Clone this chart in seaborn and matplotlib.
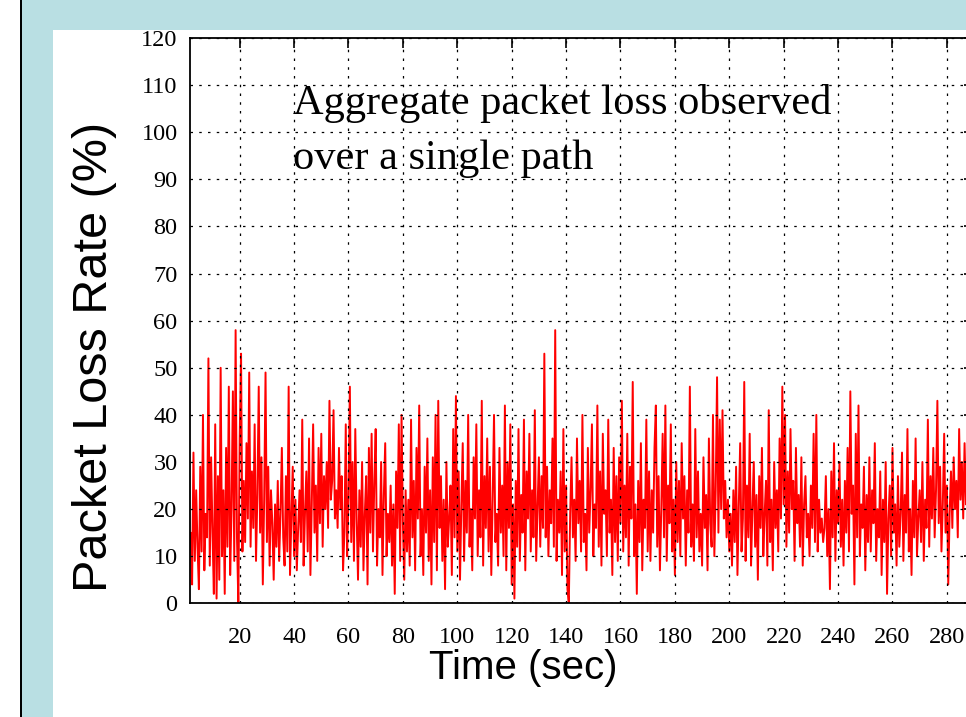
import numpy as np
import pandas as pd
import seaborn as sns
import matplotlib.pyplot as plt
from matplotlib.patches import Rectangle

# sampling of the trace (sec)
t_start = 2.0
t_step = 0.5

# packet loss rate (%), 10 s per row
loss = [
    15, 4, 32, 9, 24, 12, 3, 29, 11, 40, 7, 19, 14, 52, 8, 31, 15, 2, 38, 1,
    27, 5, 50, 10, 24, 2, 33, 12, 46, 6, 20, 45, 9, 58, 14, 0, 35, 53, 11, 26,
    13, 34, 18, 49, 12, 28, 16, 38, 9, 23, 46, 15, 31, 4, 22, 49, 13, 29, 8, 24,
    17, 5, 21, 12, 26, 9, 19, 33, 14, 8, 27, 11, 46, 6, 18, 29, 10, 22, 7, 16,
    24, 13, 39, 8, 19, 28, 11, 35, 6, 21, 38, 15, 25, 9, 33, 17, 36, 12, 27, 20,
    30, 16, 43, 22, 26, 41, 18, 24, 16, 33, 20, 27, 7, 15, 38, 10, 22, 46, 13, 30,
    9, 37, 18, 5, 24, 12, 30, 7, 19, 27, 4, 33, 15, 36, 11, 26, 37, 8, 20, 14,
    30, 6, 23, 34, 10, 19, 13, 25, 8, 21, 2, 28, 16, 38, 9, 40, 17, 5, 24, 11,
    22, 8, 39, 14, 26, 7, 33, 18, 42, 10, 20, 6, 29, 15, 35, 9, 24, 4, 31, 13,
    40, 7, 43, 16, 27, 9, 22, 3, 30, 12, 18, 25, 6, 37, 14, 44, 11, 28, 5, 21,
    34, 9, 26, 15, 40, 12, 20, 7, 31, 18, 38, 10, 24, 14, 43, 8, 27, 16, 35, 11,
    29, 6, 22, 40, 13, 19, 8, 33, 15, 25, 10, 42, 7, 30, 16, 38, 4, 21, 1, 26,
    12, 37, 9, 23, 15, 39, 7, 28, 18, 36, 11, 24, 14, 41, 9, 20, 31, 12, 27, 16,
    53, 14, 29, 10, 24, 17, 35, 12, 58, 9, 22, 15, 28, 6, 37, 11, 25, 3, 0, 19,
    31, 14, 22, 9, 35, 17, 26, 11, 40, 13, 19, 7, 33, 15, 24, 38, 10, 21, 16, 42,
    12, 28, 8, 36, 19, 24, 10, 39, 15, 22, 6, 33, 13, 27, 9, 31, 17, 43, 11, 25,
    14, 36, 8, 29, 18, 47, 10, 21, 2, 26, 13, 34, 7, 22, 16, 39, 11, 28, 9, 24,
    15, 33, 42, 12, 27, 7, 20, 36, 14, 42, 9, 25, 17, 38, 11, 22, 6, 30, 13, 26,
    10, 34, 18, 27, 8, 24, 15, 46, 12, 21, 9, 37, 14, 28, 11, 19, 8, 31, 16, 23,
    7, 35, 17, 12, 40, 10, 24, 48, 15, 39, 20, 41, 18, 26, 14, 22, 11, 19, 8, 24,
    13, 29, 6, 21, 34, 11, 18, 47, 9, 25, 14, 36, 8, 20, 30, 12, 23, 5, 27, 16,
    33, 10, 19, 26, 8, 41, 13, 22, 7, 30, 16, 24, 11, 35, 18, 46, 21, 40, 12, 28,
    15, 37, 20, 26, 9, 33, 17, 23, 12, 31, 8, 21, 27, 14, 19, 10, 25, 16, 36, 13,
    40, 11, 22, 15, 18, 13, 16, 27, 10, 20, 3, 28, 14, 34, 9, 24, 17, 30, 12, 22,
    8, 26, 15, 33, 11, 45, 19, 25, 4, 36, 14, 42, 10, 21, 16, 29, 7, 23, 13, 31,
    11, 24, 17, 34, 9, 20, 14, 28, 6, 22, 13, 30, 2, 18, 25, 10, 33, 15, 21, 8,
    27, 12, 19, 32, 9, 23, 15, 37, 11, 20, 6, 26, 14, 35, 10, 18, 24, 13, 30, 9,
    22, 16, 39, 12, 27, 18, 33, 14, 24, 43, 17, 29, 11, 21, 36, 15, 25, 4, 19, 28,
    16, 31, 20, 26, 14, 37, 22, 30, 18, 34, 21, 27, 24,
]

x_ticks = list(range(20, 281, 20))
y_ticks = list(range(0, 121, 10))

title_text = "Aggregate packet loss observed\nover a single path"
x_label = "Time (sec)"
y_label = "Packet Loss Rate (%)"

time = t_start + t_step * np.arange(len(loss))
df = pd.DataFrame({"time": time, "loss": loss})

sns.set_style("white")
plt.rcParams["font.family"] = ["Liberation Serif", "DejaVu Serif"]
plt.rcParams["text.color"] = "black"

W, H = 966, 717
fig = plt.figure(figsize=(W / 100, H / 100), dpi=100)
fig.patch.set_facecolor("white")


def px_rect(x0, y0, x1, y1, color):
    # rectangle given in pixels from the top-left corner
    fig.patches.append(Rectangle((x0 / W, 1 - y1 / H), (x1 - x0) / W, (y1 - y0) / H,
                                 transform=fig.transFigure, facecolor=color,
                                 edgecolor="none", zorder=-5))


px_rect(22, 0, W, H, "#b9dfe3")
px_rect(53, 30, W, H, "white")
px_rect(20, 0, 22, H, "black")

# axes: 0 % at y=603, 120 % at y=38, t=20 at x=239, 2.72 px per second
x_lo, x_hi = 1.73, 290
ax = fig.add_axes([190 / W, 1 - 603.3 / H, (x_hi - x_lo) * 2.72 / W, 565.2 / H])
ax.set_zorder(5)
ax.set_facecolor("white")

sns.lineplot(data=df, x="time", y="loss", color="red", linewidth=1.4,
             estimator=None, ax=ax)

ax.set_xlim(x_lo, x_hi)
ax.set_ylim(0, 120)
ax.set_xticks(x_ticks)
ax.set_yticks(y_ticks)
ax.set_xlabel("")
ax.set_ylabel("")

ax.set_axisbelow(False)
ax.grid(True, color="black", linestyle=(0, (2, 5)), linewidth=0.9)
for s in ax.spines.values():
    s.set_color("black")
    s.set_linewidth(1.3)

ax.tick_params(direction="in", length=7, width=1.2, top=True, right=True,
               labelsize=17.5, colors="black")
ax.tick_params(axis="y", pad=9)
ax.tick_params(axis="x", pad=17)

fig.text(293 / W, 1 - 84 / H, title_text, fontsize=30.5, va="top", ha="left",
         linespacing=1.55, color="black", zorder=10,
         family=["Liberation Serif", "DejaVu Serif"])
fig.text(523 / W, 1 - 668 / H, x_label, fontsize=29, va="center", ha="center",
         color="black", family=["Liberation Sans", "DejaVu Sans"])
fig.text(95 / W, 1 - 357 / H, y_label, fontsize=35, va="center", ha="center",
         rotation=90, color="black", family=["Liberation Sans", "DejaVu Sans"])

fig.savefig("out.png", dpi=100)
